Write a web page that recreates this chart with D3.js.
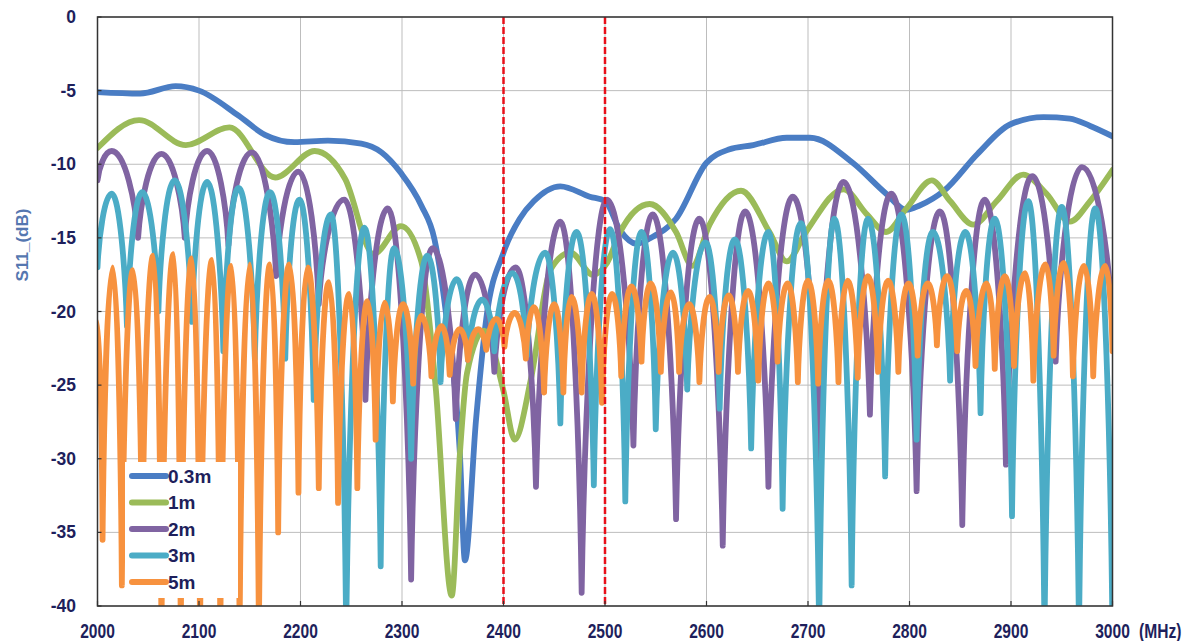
<!DOCTYPE html>
<html><head><meta charset="utf-8">
<script src="https://cdn.jsdelivr.net/npm/d3@7"></script>
<style>body{margin:0;background:#fff}</style>
</head><body>
<svg id="c" width="1201" height="641"></svg>
<script>
const xTicks = [2000,2100,2200,2300,2400,2500,2600,2700,2800,2900,3000];
const yTicks = [0,-5,-10,-15,-20,-25,-30,-35,-40];
const seriesNames = ["0.3m","1m","2m","3m","5m"];
const seriesColors = ["#4A7DC4","#9BBB59","#8064A2","#4BACC6","#F7923F"];
const markerFreqs = [2400,2500];

const s03 = [[2000,-5.1],[2042,-5.2],[2077,-4.7],[2100,-5.0],[2139,-6.7],[2165,-8.0],[2194,-8.5],[2227,-8.4],[2260,-8.6],[2280,-9.2],[2299,-10.6],[2319,-12.8],[2332,-15.1],[2344,-20.5],[2357,-29.6],[2362,-36.9],[2373,-27.3],[2383,-20.5],[2400,-16.0],[2416,-13.7],[2430,-12.5],[2456,-11.5],[2485,-12.2],[2500,-12.5],[2515,-14.5],[2531,-15.4],[2545,-15.0],[2570,-13.7],[2600,-9.9],[2622,-9.0],[2646,-8.7],[2679,-8.2],[2702,-8.2],[2744,-9.9],[2777,-12.0],[2797,-13.1],[2810,-12.8],[2834,-11.8],[2867,-9.3],[2899,-7.3],[2932,-6.8],[2958,-6.9],[2978,-7.4],[3000,-8.1]];

const s1 = [[2000,-8.9],[2041,-7.0],[2087,-8.7],[2130,-7.5],[2175,-10.9],[2214,-9.1],[2244,-11.0],[2272,-16.1],[2299,-14.2],[2319,-16.6],[2333,-25],[2349,-39.3],[2357,-29.7],[2364,-24.2],[2381,-21.3],[2400,-25.4],[2411,-28.7],[2427,-24.6],[2446,-17.2],[2466,-16.0],[2488,-17.5],[2502,-16.7],[2515,-14.6],[2544,-12.7],[2570,-14.6],[2586,-16.9],[2603,-14.1],[2634,-11.8],[2662,-14.6],[2679,-16.6],[2698,-14.6],[2735,-11.7],[2758,-13.4],[2777,-14.6],[2797,-13.0],[2822,-11.1],[2840,-12.5],[2863,-14.1],[2886,-12.5],[2912,-10.7],[2935,-12.0],[2958,-13.9],[2978,-12.5],[3000,-10.4]];

const s2 = [[2000,-11.1],[2014,-9.1],[2040,-15.0],[2063,-9.3],[2086,-15.0],[2108,-9.1],[2129,-15.5],[2152,-9.2],[2176,-17.6],[2198,-10.5],[2218,-19.5],[2243,-12.4],[2264,-26],[2286,-13.0],[2309,-38.2],[2330,-15.7],[2353,-27.3],[2372,-17.5],[2391,-24.1],[2412,-17.0],[2432,-31.9],[2456,-13.9],[2477,-39.1],[2502,-12.4],[2528,-29.1],[2547,-13.4],[2570,-34.1],[2593,-13.7],[2616,-35.9],[2638,-13.2],[2661,-31.9],[2685,-12.2],[2710,-30],[2735,-11.2],[2761,-27.0],[2782,-12.0],[2807,-32.2],[2830,-13.2],[2852,-34.5],[2874,-12.4],[2895,-30.4],[2921,-10.8],[2944,-23.4],[2970,-10.2],[3000,-21]];

const s3 = [[2000,-17.0],[2014,-12.0],[2029,-21.0],[2044,-11.9],[2060,-20.0],[2076,-11.1],[2093,-20.7],[2108,-11.2],[2124,-22.7],[2139,-11.6],[2155,-23.2],[2170,-11.9],[2185,-23.2],[2199,-12.4],[2213,-26],[2230,-13.4],[2245,-42],[2263,-14.3],[2279,-37.3],[2292,-15.7],[2309,-30],[2325,-16.2],[2338,-24.8],[2354,-17.8],[2365,-23.3],[2379,-19.2],[2391,-22.7],[2409,-17.4],[2423,-23],[2441,-16.0],[2456,-27.6],[2472,-14.6],[2489,-31.8],[2505,-14.4],[2520,-32.9],[2536,-14.6],[2550,-28.0],[2567,-16.0],[2581,-25.3],[2599,-15.3],[2613,-26.6],[2628,-15.1],[2644,-29.3],[2661,-14.6],[2675,-33.4],[2693,-14.0],[2711,-42],[2726,-13.7],[2743,-38.6],[2759,-13.7],[2776,-31.2],[2792,-13.4],[2807,-28.7],[2823,-14.6],[2840,-24.7],[2855,-14.6],[2870,-26.9],[2884,-13.7],[2901,-33.9],[2917,-12.5],[2933,-42],[2950,-12.9],[2967,-42],[2983,-13.0],[3000,-42]];

const s5 = [[2000,-20.7],[2005,-35.5],[2015,-17.0],[2024,-38.6],[2035,-17.2],[2044,-37],[2055,-16.2],[2063,-42],[2075,-16.1],[2082,-42],[2093,-16.4],[2101,-42],[2113,-16.5],[2121,-42],[2132,-16.9],[2140,-42],[2150,-16.8],[2159,-42],[2170,-16.8],[2178,-35],[2189,-16.8],[2198,-32.3],[2207,-17.0],[2218,-32],[2228,-18.0],[2237,-33],[2248,-18.8],[2256,-32],[2266,-19.3],[2274,-28.7],[2283,-19.4],[2291,-26.1],[2301,-19.5],[2311,-24.9],[2319,-20.3],[2329,-24.4],[2339,-21.0],[2347,-24.3],[2357,-21.2],[2365,-23.3],[2375,-21.2],[2383,-22.6],[2393,-20.5],[2401,-22.4],[2411,-20.1],[2422,-23.2],[2430,-19.7],[2440,-25.5],[2450,-19.5],[2459,-25.5],[2467,-19.0],[2477,-25.5],[2487,-18.8],[2497,-26.2],[2507,-18.8],[2516,-24.4],[2526,-18.3],[2536,-23.4],[2545,-18.1],[2555,-24.1],[2565,-18.7],[2573,-24.1],[2583,-19.5],[2593,-24.8],[2603,-19.0],[2612,-24.1],[2622,-18.9],[2631,-24.1],[2641,-18.6],[2651,-24.7],[2661,-18.1],[2670,-23.4],[2680,-18.1],[2690,-24.8],[2700,-17.9],[2710,-24.9],[2720,-17.9],[2730,-24.8],[2739,-17.9],[2749,-24.5],[2759,-17.6],[2769,-24.1],[2779,-17.9],[2789,-24.1],[2799,-18.1],[2808,-23.0],[2818,-18.1],[2827,-22.3],[2837,-17.6],[2847,-22.7],[2856,-18.6],[2865,-23.7],[2876,-18.1],[2884,-23.9],[2894,-17.6],[2903,-23.7],[2914,-17.4],[2922,-24.7],[2934,-16.8],[2942,-23.0],[2952,-16.7],[2961,-24.4],[2972,-16.9],[2981,-24.4],[2993,-16.9],[3000,-22.7]];

const seriesData = [s03, s1, s2, s3, s5];
const curveKinds = ["smooth","smooth","cusp","cusp","cusp"];

const L = 97.5, R = 1112.5, T = 17, B = 606;
const x = d3.scaleLinear().domain([2000,3000]).range([L,R]);
const y = d3.scaleLinear().domain([-40,0]).range([B,T]);
const svg = d3.select("#c");
const navy = "#1E1F5C";

// custom curve: rounded peaks, sharp cusps at troughs
function CuspCurve(ctx){ this._context = ctx; }
CuspCurve.prototype = {
  areaStart(){}, areaEnd(){},
  lineStart(){ this._pts = []; },
  point(px,py){ this._pts.push([+px,+py]); },
  lineEnd(){
    const p = this._pts, c = this._context;
    if(!p.length) return;
    c.moveTo(p[0][0], p[0][1]);
    for(let i=1;i<p.length;i++){
      const [x0,y0] = p[i-1], [x1,y1] = p[i];
      const dx = x1-x0, dy = y1-y0;
      if(dy > 0){
        c.bezierCurveTo(x0+0.5*dx, y0, x1-0.1*dx, y0+0.58*dy, x1, y1);
      } else {
        c.bezierCurveTo(x0+0.1*dx, y0+0.42*dy, x1-0.5*dx, y1, x1, y1);
      }
    }
  }
};
const curveCusp = ctx => new CuspCurve(ctx);

svg.append("defs").append("clipPath").attr("id","clip")
  .append("rect").attr("x",L).attr("y",T).attr("width",R-L).attr("height",B-T);

// grid
const g = svg.append("g");
g.selectAll(".vg").data(xTicks).join("line")
  .attr("x1",d=>x(d)).attr("x2",d=>x(d)).attr("y1",T).attr("y2",B)
  .attr("stroke","#BDBDBD").attr("stroke-width",1);
g.selectAll(".hg").data(yTicks).join("line")
  .attr("y1",d=>y(d)).attr("y2",d=>y(d)).attr("x1",L).attr("x2",R)
  .attr("stroke","#BDBDBD").attr("stroke-width",1);

// series
const plot = svg.append("g").attr("clip-path","url(#clip)");
seriesData.forEach((data,i)=>{
  const line = d3.line().x(d=>x(d[0])).y(d=>y(d[1]))
    .curve(curveKinds[i]==="cusp" ? curveCusp : d3.curveMonotoneX);
  plot.append("path").datum(data).attr("d",line)
    .attr("fill","none").attr("stroke",seriesColors[i])
    .attr("stroke-width",5.8).attr("stroke-linejoin","round").attr("stroke-linecap","round");
});

// marker lines
plot.selectAll(".mk").data(markerFreqs).join("line")
  .attr("x1",d=>x(d)).attr("x2",d=>x(d)).attr("y1",T).attr("y2",B)
  .attr("stroke","#E8101A").attr("stroke-width",2.5).attr("stroke-dasharray","7,3");

// frame
svg.append("rect").attr("x",L).attr("y",T).attr("width",R-L).attr("height",B-T)
  .attr("fill","none").attr("stroke","#333").attr("stroke-width",1.5);

// ticks
svg.selectAll(".xt").data(xTicks).join("line")
  .attr("x1",d=>x(d)).attr("x2",d=>x(d)).attr("y1",B).attr("y2",B-5)
  .attr("stroke","#333").attr("stroke-width",1.2);
svg.selectAll(".yt").data(yTicks).join("line")
  .attr("x1",L).attr("x2",L+4).attr("y1",d=>y(d)).attr("y2",d=>y(d))
  .attr("stroke","#333").attr("stroke-width",1.2);

// y labels
svg.selectAll(".yl").data(yTicks).join("text")
  .attr("x",76).attr("y",d=>y(d)).attr("text-anchor","end").attr("dominant-baseline","central")
  .attr("font-family","Liberation Sans, Arial, sans-serif").attr("font-weight","bold")
  .attr("font-size",17.5).attr("fill",navy).text(d=>d);

// x labels (condensed)
svg.selectAll(".xl").data(xTicks).join("text")
  .attr("transform",d=>`translate(${x(d)},631) scale(0.78,1)`)
  .attr("text-anchor","middle").attr("dominant-baseline","central")
  .attr("font-family","Liberation Sans, Arial, sans-serif").attr("font-weight","bold")
  .attr("font-size",20).attr("fill",navy).text(d=>d);
svg.append("text").attr("transform","translate(1139,631) scale(0.78,1)")
  .attr("dominant-baseline","central")
  .attr("font-family","Liberation Sans, Arial, sans-serif").attr("font-weight","bold")
  .attr("font-size",20).attr("fill",navy).text("(MHz)");

// y title
svg.append("text").attr("transform","translate(22,245) rotate(-90)")
  .attr("text-anchor","middle").attr("dominant-baseline","central")
  .attr("font-family","Liberation Sans, Arial, sans-serif").attr("font-weight","bold")
  .attr("font-size",17).attr("fill","#5577B0").text("S11_(dB)");

// legend
const lg = svg.append("g");
lg.append("rect").attr("x",125).attr("y",462).attr("width",113).attr("height",136).attr("fill","#fff");
seriesNames.forEach((n,i)=>{
  const yy = 476 + i*26.5;
  lg.append("line").attr("x1",132).attr("x2",166).attr("y1",yy).attr("y2",yy)
    .attr("stroke",seriesColors[i]).attr("stroke-width",6).attr("stroke-linecap","round");
  lg.append("text").attr("x",168).attr("y",yy).attr("dominant-baseline","central")
    .attr("font-family","Liberation Sans, Arial, sans-serif").attr("font-weight","bold")
    .attr("font-size",19).attr("fill",navy).text(n);
});
</script>
</body></html>
